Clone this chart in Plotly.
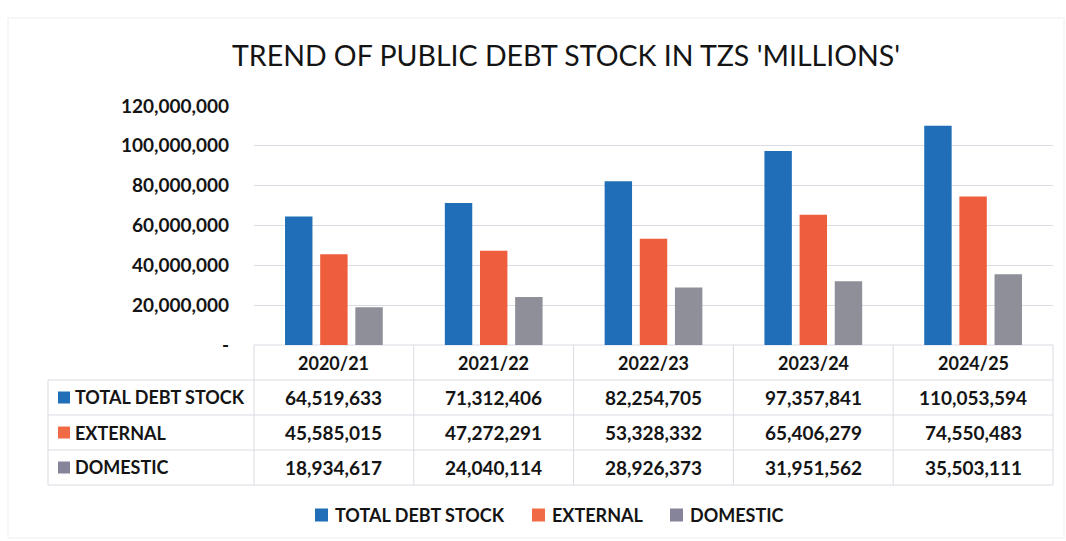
import plotly.graph_objects as go

categories = ["2020/21", "2021/22", "2022/23", "2023/24", "2024/25"]
series_names = ["TOTAL DEBT STOCK", "EXTERNAL", "DOMESTIC"]
total_debt = [64519633, 71312406, 82254705, 97357841, 110053594]
external = [45585015, 47272291, 53328332, 65406279, 74550483]
domestic = [18934617, 24040114, 28926373, 31951562, 35503111]
y_tick_vals = [0, 20000000, 40000000, 60000000, 80000000, 100000000, 120000000]
y_tick_text = ["-", "20,000,000", "40,000,000", "60,000,000", "80,000,000", "100,000,000", "120,000,000"]
title_text = "TREND OF PUBLIC DEBT STOCK IN TZS 'MILLIONS'"

colors = ["#1F6EB7", "#EF5E3C", "#8E8F99"]
key_colors = ["#1F6EB7", "#EF6A45", "#85849A"]
series_values = [total_debt, external, domestic]

W, H = 1066, 541
L, R, T, B = 254, 13, 106, 196
PW, PH = W - L - R, H - T - B
FONT = "Lato"
TXT = "#141414"


def px(x):
    return (x - L) / PW


def py(y):
    return (H - B - y) / PH


fig = go.Figure()
for name, vals, col in zip(series_names, series_values, colors):
    fig.add_trace(go.Bar(x=categories, y=vals, name=name, marker=dict(color=col, line=dict(width=0)),
                         showlegend=False))

shapes = []
annotations = []
grid_col = "#DADBE3"
bold = dict(family=FONT, size=18, color=TXT, weight="bold")
bold_num = dict(family=FONT, size=19, color=TXT, weight="bold")
# table geometry (pixels)
row_lines = [345, 380, 415, 450, 485]
col_x = [L + i * PW / len(categories) for i in range(len(categories) + 1)]
tbl_left = 48
for i, yv in enumerate(row_lines):
    x0 = L if i == 0 else tbl_left
    shapes.append(dict(type="line", xref="paper", yref="paper", x0=px(x0), x1=px(col_x[-1]),
                       y0=py(yv), y1=py(yv), line=dict(color=grid_col, width=1), layer="below"))
for cx in col_x:
    shapes.append(dict(type="line", xref="paper", yref="paper", x0=px(cx), x1=px(cx),
                       y0=py(row_lines[0]), y1=py(row_lines[-1]), line=dict(color=grid_col, width=1)))
shapes.append(dict(type="line", xref="paper", yref="paper", x0=px(tbl_left), x1=px(tbl_left),
                   y0=py(row_lines[1]), y1=py(row_lines[-1]), line=dict(color=grid_col, width=1)))

# faint outer chart border
shapes.append(dict(type="rect", xref="paper", yref="paper", x0=px(8), x1=px(1064), y0=py(18), y1=py(538),
                   line=dict(color="#EEEEF2", width=1)))

# header row
for i, c in enumerate(categories):
    annotations.append(dict(x=c, xref="x", y=py(363), yref="paper", text=c, showarrow=False,
                            font=bold, xanchor="center", yanchor="middle"))
# data rows
row_centers = [397.5, 432.5, 467.5]
for r, (name, vals, kc) in enumerate(zip(series_names, series_values, key_colors)):
    yc = row_centers[r]
    shapes.append(dict(type="rect", xref="paper", yref="paper", x0=px(58), x1=px(70),
                       y0=py(yc - 6), y1=py(yc + 6), fillcolor=kc, line=dict(width=0)))
    annotations.append(dict(x=px(73), xref="paper", y=py(yc), yref="paper", text=name, showarrow=False,
                            font=bold, xanchor="left", yanchor="middle"))
    for c, v in zip(categories, vals):
        annotations.append(dict(x=c, xref="x", y=py(yc), yref="paper", text=f"{v:,}", showarrow=False,
                                font=bold_num, xanchor="center", yanchor="middle"))

# bottom legend
leg_x = [315, 532, 670]
leg_y = 515
for name, kc, lx in zip(series_names, key_colors, leg_x):
    shapes.append(dict(type="rect", xref="paper", yref="paper", x0=px(lx), x1=px(lx + 13),
                       y0=py(leg_y - 6.5), y1=py(leg_y + 6.5), fillcolor=kc, line=dict(width=0)))
    annotations.append(dict(x=px(lx + 18), xref="paper", y=py(leg_y), yref="paper", text=name, showarrow=False,
                            font=bold, xanchor="left", yanchor="middle"))

# title
annotations.append(dict(x=px(566), xref="paper", y=py(55), yref="paper", text=title_text, showarrow=False,
                        font=dict(family=FONT, size=28.5, color=TXT), xanchor="center", yanchor="middle"))

fig.update_layout(
    width=W, height=H,
    margin=dict(l=L, r=R, t=T, b=B, autoexpand=False),
    paper_bgcolor="white", plot_bgcolor="white",
    barmode="group", bargap=0.34, bargroupgap=0.22,
    shapes=shapes, annotations=annotations,
    font=dict(family=FONT, color=TXT),
)
fig.update_xaxes(showticklabels=False, showgrid=False, showline=False, ticks="", zeroline=False)
fig.update_yaxes(range=[0, 120000000], tickvals=y_tick_vals, ticktext=y_tick_text,
                 showgrid=True, gridcolor=grid_col, gridwidth=1, zeroline=False, showline=False,
                 ticks="", ticklabelstandoff=24, tickfont=bold_num)

fig.write_html("out.html")
